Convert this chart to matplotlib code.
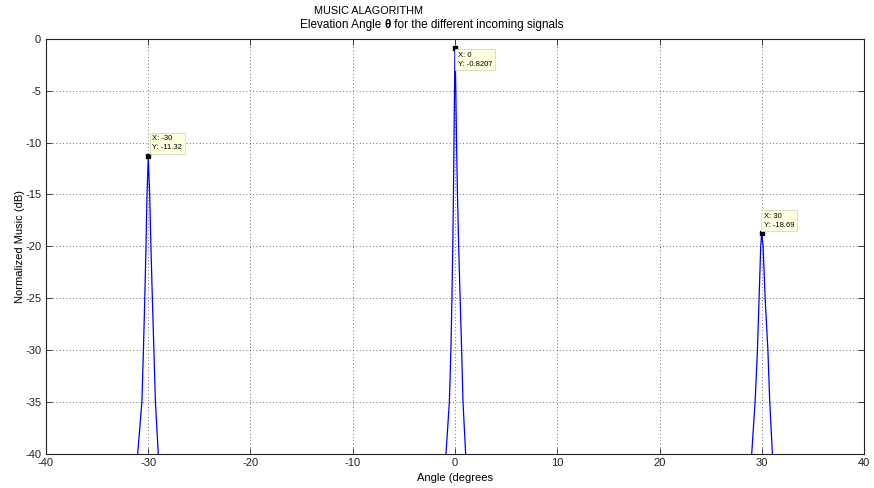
import matplotlib
matplotlib.use("Agg")
import matplotlib.pyplot as plt

# MUSIC pseudo-spectrum (values below -40 dB are clipped by the axes)
angle_deg = [
    -40.0, -32.0, -31.03, -30.62, -30.47, -30.34, -30.22, -30.12, -30.0,
    -29.86, -29.74, -29.6, -29.45, -29.3, -29.02, -28.0,
    -15.0, -2.0, -0.88, -0.55, -0.40, -0.30, -0.22, -0.15, -0.10, -0.05, 0.0,
    0.08, 0.15, 0.24, 0.36, 0.50, 0.65, 0.78, 1.04, 2.0,
    15.0, 28.0, 29.02, 29.35, 29.58, 29.74, 29.90, 30.0,
    30.13, 30.33, 30.60, 30.78, 31.04, 32.0, 40.0,
]
music_db = [
    -55.0, -52.0, -40.0, -35.0, -30.0, -25.0, -20.0, -15.0, -11.32,
    -15.0, -20.0, -25.0, -30.0, -35.0, -40.0, -52.0,
    -58.0, -55.0, -40.0, -35.0, -30.0, -25.0, -20.0, -15.0, -10.0, -5.0, -0.8207,
    -5.0, -10.0, -15.0, -20.0, -25.0, -30.0, -35.0, -40.0, -55.0,
    -58.0, -52.0, -40.0, -35.0, -30.0, -25.0, -20.0, -18.69,
    -20.0, -25.0, -30.0, -35.0, -40.0, -52.0, -55.0,
]

# data tips
tip_x = [-30, 0, 30]
tip_y = [-11.32, -0.8207, -18.69]
tip_text = ["X: -30\nY: -11.32", "X: 0\nY: -0.8207", "X: 30\nY: -18.69"]

x_ticks = [-40, -30, -20, -10, 0, 10, 20, 30, 40]
y_ticks = [0, -5, -10, -15, -20, -25, -30, -35, -40]

plt.rcParams["font.family"] = ["Liberation Sans", "DejaVu Sans"]
plt.rcParams["axes.unicode_minus"] = False

fig = plt.figure(figsize=(8.74, 4.88), dpi=100)
ax = fig.add_axes([46 / 874, 1 - 453.5 / 488, (864 - 46) / 874, (453.5 - 39) / 488])

ax.plot(angle_deg, music_db, color="#0000ff", linewidth=0.9)
ax.set_xlim(-40, 40)
ax.set_ylim(-40, 0)
ax.set_xticks(x_ticks)
ax.set_yticks(y_ticks)
ax.tick_params(direction="in", length=4, width=0.6, labelsize=8,
               top=True, right=True, colors="#222222")
ax.grid(True, color="#444444", linestyle=(0, (1, 3)), linewidth=0.6)
for s in ax.spines.values():
    s.set_color("#222222")
    s.set_linewidth(0.8)

ax.set_xlabel("Angle (degrees", fontsize=8, labelpad=3)
ax.set_ylabel("Normalized Music (dB)", fontsize=8, labelpad=0)

# two-line title, theta in bold
fig.text(314 / 874, 1 - 11 / 488, "MUSIC ALAGORITHM", fontsize=7.8, va="center", ha="left")
renderer = fig.canvas.get_renderer()
x0 = 300 / 874
y1 = 1 - 25 / 488
pieces = [("Elevation Angle ", "normal"), ("\u03b8", "bold"),
          (" for the different incoming signals", "normal")]
for txt, w in pieces:
    t = fig.text(x0, y1, txt, fontsize=8.5, fontweight=w, va="center", ha="left")
    bb = t.get_window_extent(renderer)
    x0 += bb.width / fig.bbox.width

# data tip placement (pixel offsets from the marker)
offsets = [(4, 5, "bottom"), (3, -4, "top"), (2, 4, "bottom")]
for x, y, txt, (dx, dy, va) in zip(tip_x, tip_y, tip_text, offsets):
    ax.plot(x, y, marker="s", color="black", markersize=3.5, zorder=5, clip_on=False)
    ax.annotate(txt, (x, y), xytext=(dx, dy), textcoords="offset pixels",
                fontsize=5.5, ha="left", va=va, linespacing=1.4,
                bbox=dict(boxstyle="square,pad=0.35", facecolor="#ffffe1",
                          edgecolor="#d8d8b8", linewidth=0.6),
                zorder=6)

fig.savefig("out.png", dpi=100)
